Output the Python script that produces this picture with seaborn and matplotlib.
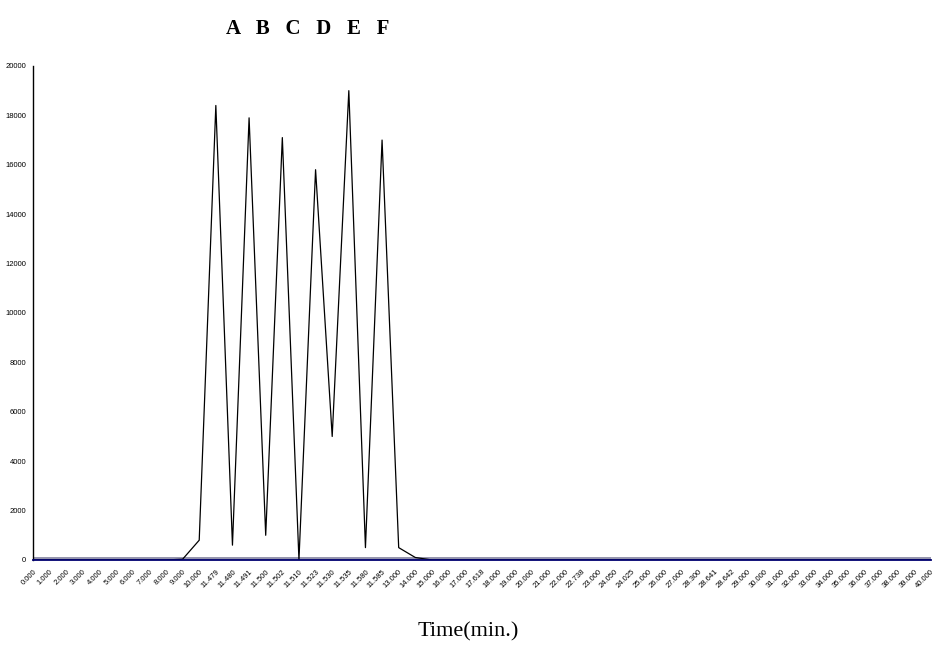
import numpy as np
import pandas as pd
import seaborn as sns
import matplotlib.pyplot as plt

#--Data (category axis, Excel style)
time_labels = ['0.000', '1.000', '2.000', '3.000', '4.000', '5.000', '6.000', '7.000', '8.000', '9.000',
               '10.000', '11.479', '11.480', '11.491', '11.500', '11.502', '11.510', '11.523', '11.530',
               '11.535', '11.580', '11.585', '13.000', '14.000', '15.000', '16.000', '17.000', '17.618',
               '18.000', '19.000', '20.000', '21.000', '22.000', '22.738', '23.000', '24.050', '24.025',
               '25.000', '26.000', '27.000', '28.300', '28.641', '28.642', '29.000', '30.000', '31.000',
               '32.000', '33.000', '34.000', '35.000', '36.000', '37.000', '38.000', '39.000', '40.000']
signal = [0, 0, 0, 0, 0, 0, 0, 0, 0, 30,
          800, 18400, 600, 17900, 1000, 17100, 0, 15800, 5000,
          19000, 500, 17000, 500, 100, 0, 0, 0, 0,
          0, 0, 0, 0, 0, 0, 0, 0, 0,
          0, 0, 0, 0, 0, 0, 0, 0, 0,
          0, 0, 0, 0, 0, 0, 0, 0, 0]
baseline = [0] * len(time_labels)
peak_names = ['A', 'B', 'C', 'D', 'E', 'F']

df = pd.DataFrame({'pos': np.arange(len(time_labels)), 'signal': signal, 'baseline': baseline})

#%%
sns.set_style('white')
plt.rcParams['font.family'] = ['Liberation Sans', 'DejaVu Sans']
plt.rcParams['text.color'] = 'black'
plt.rcParams['xtick.labelcolor'] = 'black'
plt.rcParams['ytick.labelcolor'] = 'black'

fig = plt.figure(figsize=(9.37, 6.63), dpi=100)
#Right edge pulled in a little so the last rotated label stays inside
ax = fig.add_axes([0.0352, 0.1554, 0.9580, 0.7451])

#Gray band along the zero line
sns.lineplot(data=df, x='pos', y='baseline', ax=ax, color='#9494ac', linewidth=5, zorder=1)
#Main trace
sns.lineplot(data=df, x='pos', y='signal', ax=ax, color='black', linewidth=0.9, zorder=3)

ax.set_xlim(0, len(time_labels) - 1)
ax.set_ylim(0, 20000)
ax.set_yticks(np.arange(0, 20001, 2000))
ax.set_yticklabels([str(v) for v in range(0, 20001, 2000)], fontsize=5.5)
ax.set_xticks(df['pos'])
ax.set_xticklabels(time_labels, fontsize=5.5, rotation=45, ha='right', rotation_mode='anchor')

ax.tick_params(axis='y', direction='out', length=3, width=0.8, color='black', pad=2)
ax.tick_params(axis='x', direction='in', length=4, width=0.8, color='#101040', pad=6)

for side in ['top', 'right']:
    ax.spines[side].set_visible(False)
ax.spines['left'].set_color('black')
ax.spines['left'].set_linewidth(1.0)
ax.spines['bottom'].set_color('#000070')
ax.spines['bottom'].set_linewidth(1.3)
ax.spines['bottom'].set_zorder(4)

ax.set_xlabel('')
ax.set_ylabel('')

#Peak names on top and axis title below
fig.text(0.3282, 0.957, '   '.join(peak_names), fontsize=15, fontweight='bold',
         family=['Liberation Serif', 'DejaVu Serif'], ha='center', va='center')
fig.text(0.5, 0.047, 'Time(min.)', fontsize=16,
         family=['Liberation Serif', 'DejaVu Serif'], ha='center', va='center')

fig.savefig('out.png', dpi=100)
plt.close()
